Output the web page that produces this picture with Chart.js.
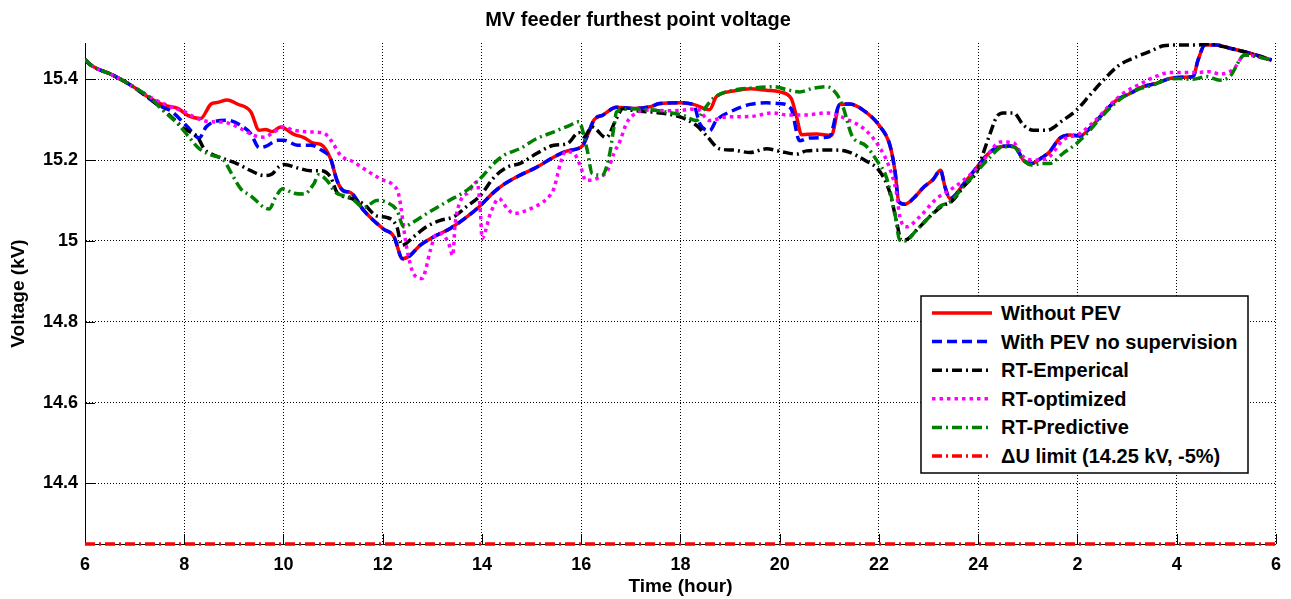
<!DOCTYPE html>
<html>
<head>
<meta charset="utf-8">
<script src="https://cdn.jsdelivr.net/npm/chart.js@4/dist/chart.umd.min.js"></script>
<style>
  html, body { margin: 0; padding: 0; background: #fff; }
  #wrap { position: relative; width: 1291px; height: 599px; }
  #legend { position: absolute; left: 920px; top: 295px; }
  #legend text { font-family: "Liberation Sans", Arial, sans-serif; font-weight: bold; font-size: 20px; fill: #000; }
</style>
</head>
<body>
<div id="wrap">
  <canvas id="c" width="1291" height="599"></canvas>
  <svg id="legend" width="330" height="180" xmlns="http://www.w3.org/2000/svg"></svg>
</div>
<script>
// ---------- data (hours from 6 h to 6 h next day; 24+ = next day) ----------
const chartTitle = 'MV feeder furthest point voltage';
const xTitle = 'Time (hour)';
const yTitle = 'Voltage (kV)';
const xTickValues = [6, 8, 10, 12, 14, 16, 18, 20, 22, 24, 26, 28, 30];
const xTickLabels = ['6', '8', '10', '12', '14', '16', '18', '20', '22', '24', '2', '4', '6'];
const yTickValues = [14.4, 14.6, 14.8, 15.0, 15.2, 15.4];
const yTickLabels = ['14.4', '14.6', '14.8', '15', '15.2', '15.4'];
const seriesNames = ['Without PEV', 'With PEV no supervision', 'RT-Emperical', 'RT-optimized', 'RT-Predictive', '\u0394U limit (14.25 kV, -5%)'];

const hoursNoPev = [6.0, 6.1, 6.57, 6.97, 7.24, 7.6, 7.87, 8.07, 8.33, 8.54, 8.67, 8.87, 9.07, 9.34, 9.51, 9.64, 9.77, 9.94, 10.21, 10.41, 10.61, 10.75, 10.95, 11.08, 11.21, 11.35, 11.62, 12.02, 12.22, 12.4, 12.55, 12.75, 13.02, 13.36, 13.7, 13.97, 14.24, 14.44, 14.77, 15.11, 15.45, 15.72, 16.02, 16.12, 16.26, 16.44, 16.71, 17.04, 17.38, 17.58, 17.99, 18.26, 18.59, 18.72, 19.06, 19.4, 19.73, 20.0, 20.23, 20.34, 20.44, 20.74, 21.04, 21.21, 21.41, 21.68, 22.01, 22.22, 22.32, 22.4, 22.52, 22.69, 22.89, 23.09, 23.24, 23.33, 23.43, 23.7, 23.97, 24.17, 24.37, 24.64, 24.77, 24.91, 25.08, 25.28, 25.44, 25.64, 25.85, 26.05, 26.25, 26.52, 26.79, 27.06, 27.32, 27.59, 27.86, 28.13, 28.33, 28.43, 28.57, 28.8, 29.07, 29.34, 29.61, 29.91];
const voltNoPev  = [15.45, 15.437, 15.41, 15.382, 15.359, 15.336, 15.328, 15.311, 15.303, 15.339, 15.343, 15.349, 15.339, 15.32, 15.274, 15.276, 15.271, 15.282, 15.264, 15.256, 15.242, 15.239, 15.203, 15.149, 15.124, 15.12, 15.075, 15.029, 15.012, 14.956, 14.964, 14.989, 15.01, 15.031, 15.06, 15.088, 15.121, 15.14, 15.163, 15.183, 15.208, 15.223, 15.235, 15.26, 15.3, 15.312, 15.331, 15.328, 15.332, 15.34, 15.342, 15.338, 15.325, 15.357, 15.371, 15.377, 15.373, 15.369, 15.353, 15.307, 15.263, 15.265, 15.261, 15.338, 15.339, 15.324, 15.285, 15.237, 15.175, 15.097, 15.091, 15.105, 15.132, 15.152, 15.175, 15.134, 15.105, 15.14, 15.182, 15.212, 15.231, 15.235, 15.229, 15.2, 15.192, 15.206, 15.221, 15.254, 15.262, 15.26, 15.279, 15.316, 15.349, 15.365, 15.382, 15.39, 15.402, 15.405, 15.407, 15.448, 15.485, 15.485, 15.477, 15.469, 15.46, 15.448];

const hoursPevNoSup = [6.0, 6.1, 6.57, 6.97, 7.24, 7.5, 7.73, 8.07, 8.3, 8.44, 8.6, 8.87, 9.14, 9.34, 9.51, 9.64, 9.88, 10.01, 10.28, 10.55, 10.75, 10.95, 11.08, 11.21, 11.35, 11.62, 12.02, 12.22, 12.4, 12.55, 12.75, 13.02, 13.36, 13.7, 13.97, 14.24, 14.44, 14.77, 15.11, 15.45, 15.72, 16.02, 16.12, 16.26, 16.44, 16.71, 17.04, 17.38, 17.58, 17.99, 18.26, 18.39, 18.59, 18.72, 19.06, 19.4, 19.73, 20.0, 20.23, 20.4, 20.6, 21.0, 21.21, 21.41, 21.68, 22.01, 22.22, 22.32, 22.4, 22.52, 22.69, 22.89, 23.09, 23.24, 23.33, 23.43, 23.7, 23.97, 24.17, 24.37, 24.64, 24.77, 24.91, 25.08, 25.28, 25.44, 25.64, 25.85, 26.05, 26.25, 26.52, 26.79, 27.06, 27.32, 27.59, 27.86, 28.13, 28.33, 28.43, 28.57, 28.8, 29.07, 29.34, 29.61, 29.91];
const voltPevNoSup  = [15.45, 15.437, 15.41, 15.382, 15.357, 15.335, 15.322, 15.282, 15.255, 15.282, 15.295, 15.299, 15.286, 15.266, 15.231, 15.234, 15.249, 15.249, 15.237, 15.237, 15.226, 15.203, 15.149, 15.124, 15.12, 15.075, 15.029, 15.012, 14.956, 14.964, 14.989, 15.01, 15.031, 15.06, 15.088, 15.121, 15.14, 15.163, 15.183, 15.208, 15.223, 15.235, 15.26, 15.3, 15.312, 15.331, 15.328, 15.332, 15.34, 15.342, 15.338, 15.29, 15.273, 15.298, 15.323, 15.338, 15.342, 15.34, 15.327, 15.248, 15.255, 15.258, 15.338, 15.339, 15.324, 15.285, 15.237, 15.175, 15.097, 15.091, 15.105, 15.132, 15.152, 15.175, 15.134, 15.105, 15.14, 15.182, 15.212, 15.231, 15.235, 15.229, 15.2, 15.192, 15.206, 15.221, 15.254, 15.262, 15.26, 15.279, 15.316, 15.349, 15.365, 15.382, 15.39, 15.402, 15.405, 15.407, 15.448, 15.485, 15.485, 15.477, 15.469, 15.46, 15.448];

const hoursEmpirical = [6.0, 6.1, 6.57, 6.97, 7.33, 7.67, 8.0, 8.27, 8.4, 8.54, 8.8, 9.07, 9.34, 9.61, 9.77, 9.91, 10.01, 10.28, 10.55, 10.75, 10.95, 11.08, 11.35, 11.62, 11.88, 12.09, 12.29, 12.38, 12.62, 12.89, 13.16, 13.43, 13.7, 13.97, 14.24, 14.51, 14.77, 15.11, 15.45, 15.72, 15.95, 16.05, 16.22, 16.5, 16.71, 16.84, 17.05, 17.58, 17.99, 18.32, 18.52, 18.79, 19.06, 19.4, 19.73, 20.0, 20.34, 20.54, 21.07, 21.34, 21.74, 22.01, 22.21, 22.35, 22.45, 22.55, 22.75, 23.02, 23.29, 23.46, 23.7, 24.0, 24.1, 24.24, 24.37, 24.5, 24.71, 24.91, 25.11, 25.38, 25.71, 25.98, 26.25, 26.52, 26.85, 27.19, 27.46, 27.73, 28.0, 28.4, 28.67, 28.94, 29.27, 29.91];
const voltEmpirical  = [15.45, 15.437, 15.41, 15.382, 15.35, 15.315, 15.278, 15.257, 15.228, 15.216, 15.203, 15.191, 15.174, 15.162, 15.166, 15.184, 15.189, 15.181, 15.174, 15.174, 15.158, 15.12, 15.106, 15.091, 15.062, 15.058, 15.033, 14.989, 15.01, 15.036, 15.051, 15.06, 15.086, 15.113, 15.157, 15.183, 15.192, 15.217, 15.237, 15.241, 15.268, 15.258, 15.282, 15.256, 15.303, 15.328, 15.323, 15.317, 15.307, 15.286, 15.261, 15.228, 15.225, 15.219, 15.228, 15.222, 15.215, 15.223, 15.225, 15.222, 15.198, 15.173, 15.123, 15.051, 15.002, 15.003, 15.026, 15.06, 15.088, 15.097, 15.134, 15.179, 15.217, 15.266, 15.307, 15.317, 15.317, 15.287, 15.274, 15.274, 15.299, 15.324, 15.361, 15.398, 15.436, 15.456, 15.469, 15.483, 15.485, 15.485, 15.488, 15.481, 15.471, 15.448];

const hoursOptimized = [6.0, 6.1, 6.57, 6.97, 7.33, 7.73, 8.0, 8.27, 8.54, 8.8, 9.14, 9.41, 9.61, 9.81, 10.0, 10.21, 10.55, 10.81, 10.98, 11.15, 11.42, 11.68, 11.95, 12.22, 12.32, 12.48, 12.62, 12.79, 12.96, 13.06, 13.19, 13.33, 13.41, 13.46, 13.56, 13.73, 13.9, 13.97, 14.0, 14.17, 14.34, 14.51, 14.64, 14.98, 15.31, 15.45, 15.58, 15.68, 15.85, 15.99, 16.09, 16.32, 16.53, 16.66, 16.79, 16.91, 17.11, 17.38, 17.72, 17.99, 18.32, 18.59, 18.93, 19.4, 19.87, 20.13, 20.54, 20.94, 21.34, 21.74, 22.01, 22.21, 22.35, 22.42, 22.55, 22.82, 23.16, 23.43, 23.7, 24.0, 24.24, 24.44, 24.71, 24.91, 25.11, 25.38, 25.71, 26.05, 26.38, 26.65, 26.92, 27.32, 27.59, 27.86, 28.4, 28.67, 28.87, 29.14, 29.37, 29.91];
const voltOptimized  = [15.45, 15.437, 15.41, 15.382, 15.355, 15.332, 15.32, 15.303, 15.295, 15.294, 15.278, 15.261, 15.257, 15.27, 15.282, 15.274, 15.27, 15.267, 15.245, 15.212, 15.195, 15.174, 15.154, 15.137, 15.116, 14.985, 14.919, 14.907, 14.977, 15.014, 15.018, 14.993, 14.964, 15.043, 15.097, 15.121, 15.146, 15.068, 15.006, 15.068, 15.105, 15.08, 15.068, 15.08, 15.105, 15.13, 15.192, 15.221, 15.217, 15.183, 15.15, 15.155, 15.175, 15.217, 15.25, 15.291, 15.317, 15.324, 15.322, 15.323, 15.327, 15.298, 15.307, 15.308, 15.317, 15.312, 15.312, 15.317, 15.302, 15.273, 15.232, 15.182, 15.12, 15.06, 15.035, 15.06, 15.105, 15.126, 15.15, 15.183, 15.221, 15.245, 15.243, 15.208, 15.2, 15.204, 15.25, 15.266, 15.301, 15.336, 15.365, 15.392, 15.408, 15.417, 15.417, 15.419, 15.413, 15.425, 15.46, 15.448];

const hoursPredictive = [6.0, 6.1, 6.57, 6.97, 7.33, 7.6, 7.87, 8.07, 8.27, 8.47, 8.8, 8.94, 9.14, 9.34, 9.61, 9.71, 9.84, 9.98, 10.21, 10.41, 10.61, 10.71, 10.88, 11.05, 11.35, 11.62, 11.88, 12.09, 12.29, 12.42, 12.62, 12.89, 13.29, 13.7, 13.97, 14.24, 14.44, 14.77, 15.11, 15.45, 15.78, 15.95, 16.12, 16.22, 16.42, 16.56, 16.66, 16.71, 16.91, 17.38, 17.72, 18.05, 18.32, 18.46, 18.66, 19.06, 19.4, 19.87, 20.13, 20.4, 20.67, 20.94, 21.14, 21.28, 21.45, 21.74, 21.95, 22.15, 22.32, 22.42, 22.52, 22.75, 23.02, 23.23, 23.43, 23.7, 23.97, 24.24, 24.5, 24.71, 24.91, 25.08, 25.31, 25.44, 25.71, 25.98, 26.25, 26.52, 26.85, 27.19, 27.53, 27.8, 28.06, 28.33, 28.6, 28.87, 29.07, 29.37, 29.91];
const voltPredictive  = [15.45, 15.437, 15.41, 15.382, 15.353, 15.32, 15.29, 15.261, 15.232, 15.216, 15.199, 15.17, 15.129, 15.112, 15.083, 15.079, 15.108, 15.129, 15.118, 15.116, 15.141, 15.164, 15.149, 15.12, 15.108, 15.083, 15.1, 15.095, 15.075, 15.035, 15.047, 15.068, 15.097, 15.126, 15.155, 15.192, 15.212, 15.229, 15.254, 15.27, 15.287, 15.295, 15.225, 15.167, 15.163, 15.208, 15.283, 15.319, 15.327, 15.325, 15.319, 15.311, 15.298, 15.323, 15.353, 15.373, 15.378, 15.382, 15.375, 15.369, 15.378, 15.382, 15.365, 15.33, 15.262, 15.235, 15.2, 15.157, 15.068, 15.002, 15.0, 15.026, 15.06, 15.086, 15.097, 15.134, 15.171, 15.208, 15.233, 15.233, 15.2, 15.188, 15.192, 15.192, 15.217, 15.241, 15.274, 15.312, 15.35, 15.374, 15.386, 15.4, 15.402, 15.4, 15.407, 15.398, 15.407, 15.46, 15.448];

const hoursLimit = [6, 30];
const voltLimit = [14.25, 14.25];

const xMin = 6, xMax = 30, yMin = 14.25, yMax = 15.49;

// ---------- build ----------
const FONT = '"Liberation Sans", Arial, Helvetica, sans-serif';
const zip = (xs, ys) => xs.map((x, i) => ({ x, y: ys[i] }));

const styles = [
  { color: '#ff0000', dash: [],            order: 6 },
  { color: '#0000ff', dash: [10, 5],       order: 5 },
  { color: '#000000', dash: [10, 4, 2, 4], order: 4 },
  { color: '#ff00ff', dash: [3.5, 4],      order: 3 },
  { color: '#008000', dash: [10, 4, 2, 4], order: 2 },
  { color: '#ff0000', dash: [10, 4, 2, 4], order: 1 }
];
const seriesData = [
  zip(hoursNoPev, voltNoPev),
  zip(hoursPevNoSup, voltPevNoSup),
  zip(hoursEmpirical, voltEmpirical),
  zip(hoursOptimized, voltOptimized),
  zip(hoursPredictive, voltPredictive),
  zip(hoursLimit, voltLimit)
];

const datasets = seriesData.map((d, i) => ({
  label: seriesNames[i],
  data: d,
  borderColor: styles[i].color,
  backgroundColor: styles[i].color,
  borderDash: styles[i].dash,
  borderWidth: 3.5,
  pointRadius: 0,
  pointHoverRadius: 0,
  cubicInterpolationMode: i === 5 ? 'default' : 'monotone',
  tension: 0,
  fill: false,
  order: styles[i].order,
  clip: i === 5 ? false : undefined
}));

const innerTicks = {
  id: 'innerTicks',
  beforeDatasetsDraw(chart) {
    const { ctx, chartArea, scales } = chart;
    ctx.save();
    ctx.strokeStyle = '#000';
    ctx.lineWidth = 1;
    ctx.setLineDash([]);
    ctx.beginPath();
    xTickValues.forEach(v => {
      const px = Math.round(scales.x.getPixelForValue(v)) + 0.5;
      ctx.moveTo(px, chartArea.bottom);
      ctx.lineTo(px, chartArea.bottom - 10);
    });
    yTickValues.forEach(v => {
      const py = Math.round(scales.y.getPixelForValue(v)) + 0.5;
      ctx.moveTo(chartArea.left, py);
      ctx.lineTo(chartArea.left + 10, py);
    });
    ctx.stroke();
    ctx.restore();
  }
};

new Chart(document.getElementById('c'), {
  type: 'line',
  data: { datasets },
  plugins: [innerTicks],
  options: {
    responsive: false,
    animation: false,
    devicePixelRatio: 1,
    layout: { padding: { left: 0, right: 15, top: 0, bottom: 0 } },
    plugins: {
      legend: { display: false },
      tooltip: { enabled: false },
      title: {
        display: true,
        text: chartTitle,
        color: '#000',
        font: { family: FONT, size: 20, weight: 'bold' },
        padding: { top: 8, bottom: 11 }
      }
    },
    scales: {
      x: {
        type: 'linear',
        min: xMin, max: xMax,
        afterBuildTicks: s => { s.ticks = xTickValues.map(v => ({ value: v })); },
        afterFit: s => { s.height = 55; },
        ticks: {
          autoSkip: false, maxRotation: 0, minRotation: 0,
          color: '#000', padding: 10,
          font: { family: FONT, size: 18, weight: 'bold' },
          callback: (v, i) => xTickLabels[i]
        },
        grid: { color: '#000', lineWidth: 1, drawTicks: false },
        border: { display: true, color: '#000', width: 1, dash: [1, 2] },
        title: {
          display: true, text: xTitle, color: '#000',
          font: { family: FONT, size: 19, weight: 'bold' },
          padding: { top: 0, bottom: 1 }
        }
      },
      y: {
        type: 'linear',
        min: yMin, max: yMax,
        afterBuildTicks: s => { s.ticks = yTickValues.map(v => ({ value: v })); },
        afterFit: s => { s.width = 85; },
        ticks: {
          color: '#000', padding: 7,
          font: { family: FONT, size: 18, weight: 'bold' },
          callback: (v, i) => yTickLabels[i]
        },
        grid: { color: '#000', lineWidth: 1, drawTicks: false },
        border: { display: true, color: '#000', width: 1, dash: [1, 2] },
        title: {
          display: true, text: yTitle, color: '#000',
          font: { family: FONT, size: 19, weight: 'bold' },
          padding: { top: 7, bottom: 0 }
        }
      }
    }
  }
});

// ---------- legend (inside plot, bottom right) ----------
(function buildLegend() {
  const svg = document.getElementById('legend');
  const NS = 'http://www.w3.org/2000/svg';
  const W = 328, H = 178;
  svg.setAttribute('width', W + 2);
  svg.setAttribute('height', H + 2);
  const box = document.createElementNS(NS, 'rect');
  box.setAttribute('x', 1); box.setAttribute('y', 1);
  box.setAttribute('width', W - 1); box.setAttribute('height', H - 1);
  box.setAttribute('fill', '#fff'); box.setAttribute('stroke', '#000'); box.setAttribute('stroke-width', 1.5);
  svg.appendChild(box);
  seriesNames.forEach((name, i) => {
    const cy = 18 + i * 28.6;
    const ln = document.createElementNS(NS, 'line');
    ln.setAttribute('x1', 12); ln.setAttribute('x2', 72);
    ln.setAttribute('y1', cy); ln.setAttribute('y2', cy);
    ln.setAttribute('stroke', styles[i].color);
    ln.setAttribute('stroke-width', 3.5);
    if (styles[i].dash.length) ln.setAttribute('stroke-dasharray', styles[i].dash.join(' '));
    svg.appendChild(ln);
    const t = document.createElementNS(NS, 'text');
    t.setAttribute('x', 81); t.setAttribute('y', cy + 7);
    t.textContent = name;
    svg.appendChild(t);
  });
})();
</script>
</body>
</html>
